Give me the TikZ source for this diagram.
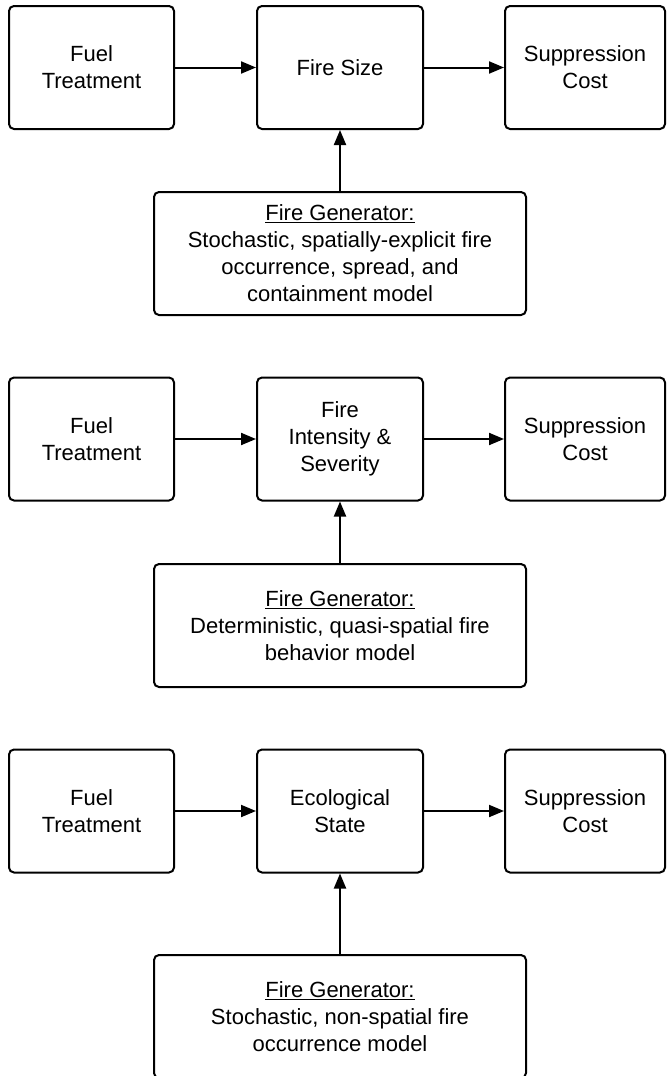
\documentclass[tikz,border=0pt]{standalone}
\usepackage{fontspec}
\setmainfont{Liberation Sans}
\usetikzlibrary{arrows.meta}
\begin{document}
\begin{tikzpicture}[x=1pt,y=-1pt,
  blk/.style={draw, line width=2pt, rounded corners=5pt, align=center,
    inner sep=0pt, minimum height=123pt,
    font=\fontsize{22}{27}\selectfont},
  gen/.style={blk, minimum width=372pt},
  link/.style={line width=2pt, -{Triangle[length=15pt,width=12pt]}}]
\useasboundingbox (0,0) rectangle (667,1076);
\begin{scope}
\clip (0,0) rectangle (667,1076);

% First chain: fire size
\node[blk, minimum width=165pt] (ft1) at (91.5,67.5) {Fuel\\Treatment};
\node[blk, minimum width=166pt] (mid1) at (340,67.5) {Fire Size};
\node[blk, minimum width=160pt] (sc1) at (585,67.5) {Suppression\\Cost};
\node[gen] (gen1) at (340,253.5) {\underline{Fire Generator:}\\Stochastic, spatially-explicit fire\\occurrence, spread, and\\containment model};
\draw[link] (ft1) -- (mid1);
\draw[link] (mid1) -- (sc1);
\draw[link] (gen1) -- (mid1);

% Second chain: intensity and severity
\node[blk, minimum width=165pt] (ft2) at (91.5,439) {Fuel\\Treatment};
\node[blk, minimum width=166pt] (mid2) at (340,439) {Fire\\Intensity \&\\Severity};
\node[blk, minimum width=160pt] (sc2) at (585,439) {Suppression\\Cost};
\node[gen] (gen2) at (340,625.5) {\underline{Fire Generator:}\\Deterministic, quasi-spatial fire\\behavior model};
\draw[link] (ft2) -- (mid2);
\draw[link] (mid2) -- (sc2);
\draw[link] (gen2) -- (mid2);

% Third chain: ecological state
\node[blk, minimum width=165pt] (ft3) at (91.5,811) {Fuel\\Treatment};
\node[blk, minimum width=166pt] (mid3) at (340,811) {Ecological\\State};
\node[blk, minimum width=160pt] (sc3) at (585,811) {Suppression\\Cost};
\node[gen] (gen3) at (340,1016.5) {\underline{Fire Generator:}\\Stochastic, non-spatial fire\\occurrence model};
\draw[link] (ft3) -- (mid3);
\draw[link] (mid3) -- (sc3);
\draw[link] (gen3) -- (mid3);
\end{scope}
\end{tikzpicture}
\end{document}
